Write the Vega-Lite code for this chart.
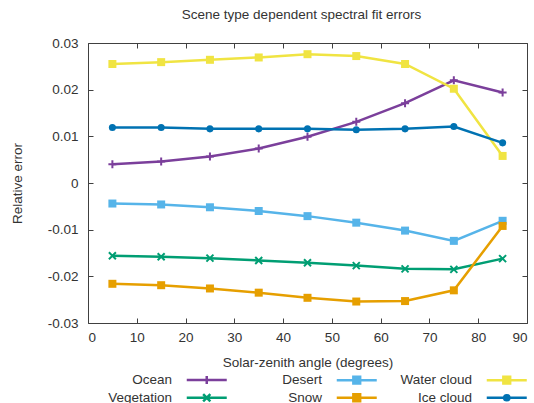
{
  "$schema": "https://vega.github.io/schema/vega-lite/v6.json",
  "width": 439,
  "height": 280,
  "autosize": {"type": "none"},
  "padding": {"left": 88, "top": 43, "right": 7, "bottom": 80},
  "background": "white",
  "title": {
    "text": "Scene type dependent spectral fit errors",
    "fontSize": 13.5,
    "fontWeight": "normal",
    "font": "Liberation Sans",
    "color": "#333333",
    "anchor": "middle",
    "offset": 15,
    "dx": -6
  },
  "data": {
    "values": [
      {"s": "Ocean", "x": 5, "y": 0.0040},
      {"s": "Ocean", "x": 15, "y": 0.0046},
      {"s": "Ocean", "x": 25, "y": 0.0057},
      {"s": "Ocean", "x": 35, "y": 0.0074},
      {"s": "Ocean", "x": 45, "y": 0.0099},
      {"s": "Ocean", "x": 55, "y": 0.0131},
      {"s": "Ocean", "x": 65, "y": 0.0171},
      {"s": "Ocean", "x": 75, "y": 0.0220},
      {"s": "Ocean", "x": 85, "y": 0.0194},
      {"s": "Vegetation", "x": 5, "y": -0.0156},
      {"s": "Vegetation", "x": 15, "y": -0.0158},
      {"s": "Vegetation", "x": 25, "y": -0.0161},
      {"s": "Vegetation", "x": 35, "y": -0.0166},
      {"s": "Vegetation", "x": 45, "y": -0.0171},
      {"s": "Vegetation", "x": 55, "y": -0.0177},
      {"s": "Vegetation", "x": 65, "y": -0.0184},
      {"s": "Vegetation", "x": 75, "y": -0.0185},
      {"s": "Vegetation", "x": 85, "y": -0.0162},
      {"s": "Desert", "x": 5, "y": -0.0044},
      {"s": "Desert", "x": 15, "y": -0.0046},
      {"s": "Desert", "x": 25, "y": -0.0052},
      {"s": "Desert", "x": 35, "y": -0.0060},
      {"s": "Desert", "x": 45, "y": -0.0071},
      {"s": "Desert", "x": 55, "y": -0.0085},
      {"s": "Desert", "x": 65, "y": -0.0102},
      {"s": "Desert", "x": 75, "y": -0.0124},
      {"s": "Desert", "x": 85, "y": -0.0081},
      {"s": "Snow", "x": 5, "y": -0.0216},
      {"s": "Snow", "x": 15, "y": -0.0219},
      {"s": "Snow", "x": 25, "y": -0.0226},
      {"s": "Snow", "x": 35, "y": -0.0235},
      {"s": "Snow", "x": 45, "y": -0.0246},
      {"s": "Snow", "x": 55, "y": -0.0254},
      {"s": "Snow", "x": 65, "y": -0.0253},
      {"s": "Snow", "x": 75, "y": -0.0230},
      {"s": "Snow", "x": 85, "y": -0.0092},
      {"s": "Water cloud", "x": 5, "y": 0.0255},
      {"s": "Water cloud", "x": 15, "y": 0.0259},
      {"s": "Water cloud", "x": 25, "y": 0.0264},
      {"s": "Water cloud", "x": 35, "y": 0.0269},
      {"s": "Water cloud", "x": 45, "y": 0.0276},
      {"s": "Water cloud", "x": 55, "y": 0.0272},
      {"s": "Water cloud", "x": 65, "y": 0.0255},
      {"s": "Water cloud", "x": 75, "y": 0.0202},
      {"s": "Water cloud", "x": 85, "y": 0.0058},
      {"s": "Ice cloud", "x": 5, "y": 0.0119},
      {"s": "Ice cloud", "x": 15, "y": 0.0119},
      {"s": "Ice cloud", "x": 25, "y": 0.0116},
      {"s": "Ice cloud", "x": 35, "y": 0.0116},
      {"s": "Ice cloud", "x": 45, "y": 0.0116},
      {"s": "Ice cloud", "x": 55, "y": 0.0114},
      {"s": "Ice cloud", "x": 65, "y": 0.0116},
      {"s": "Ice cloud", "x": 75, "y": 0.0121},
      {"s": "Ice cloud", "x": 85, "y": 0.0086}
    ]
  },
  "encoding": {
    "x": {"field": "x", "type": "quantitative", "scale": {"domain": [0, 90], "nice": false}},
    "y": {"field": "y", "type": "quantitative", "scale": {"domain": [-0.03, 0.03], "nice": false, "zero": false}},
    "color": {
      "field": "s", "type": "nominal",
      "scale": {
        "domain": ["Ocean", "Desert", "Water cloud", "Vegetation", "Snow", "Ice cloud"],
        "range": ["#7b3f9b", "#56b4e9", "#f0e442", "#009e73", "#e69f00", "#0072b2"]
      }
    }
  },
  "layer": [
    {
      "mark": {"type": "line", "strokeWidth": 2.5},
      "encoding": {
        "x": {
          "field": "x", "type": "quantitative",
          "axis": {
            "orient": "bottom",
            "values": [0, 10, 20, 30, 40, 50, 60, 70, 80, 90],
            "title": "Solar-zenith angle (degrees)",
            "titleX": 219.5, "titleY": 39, "titleBaseline": "middle",
            "labelPadding": 12
          }
        },
        "y": {
          "field": "y", "type": "quantitative",
          "axis": {
            "orient": "left",
            "values": [-0.03, -0.02, -0.01, 0, 0.01, 0.02, 0.03],
            "labelExpr": "datum.value == 0 ? '0' : (datum.value < 0 ? '-' : '') + format(abs(datum.value), '.2f')",
            "title": "Relative error",
            "titleX": -71, "titleY": 140, "titleAngle": -90, "titleAlign": "center", "titleBaseline": "middle",
            "labelPadding": 15
          }
        },
        "color": {
          "field": "s", "type": "nominal",
          "legend": {
            "orient": "none",
            "legendX": 14,
            "legendY": 330,
            "direction": "horizontal",
            "columns": 3,
            "title": null,
            "padding": 0,
            "symbolSize": 64,
            "symbolStrokeWidth": 2.5,
            "labelAlign": "right",
            "labelOffset": -41.5,
            "symbolOffset": 98,
            "columnPadding": 15,
            "rowPadding": 0,
            "labelFontSize": 13.5,
            "labelFont": "Liberation Sans",
            "labelColor": "#333333",
            "labelLimit": 200,
            "encode": {
              "symbols": {
                "update": {
                  "shape": {"signal": "datum.value==='Ocean'?'M-26,0M-5,0H5M0,-1V1':datum.value==='Vegetation'?'M-26,0M-5,0H5M-0.9,-0.9L0.9,0.9M-0.9,0.9L0.9,-0.9':datum.value==='Ice cloud'?'M-26,0M-5,0H5M-0.65,0A0.65,0.65 0 1,0 0.65,0A0.65,0.65 0 1,0 -0.65,0':'M-26,0M-5,0H5M-0.85,-0.85H0.85V0.85H-0.85Z'"},
                  "fill": {"scale": "color", "field": "value"},
                  "stroke": {"scale": "color", "field": "value"},
                  "strokeWidth": {"value": 2.5},
                  "opacity": {"value": 1}
                }
              }
            }
          }
        }
      }
    },
    {
      "transform": [{"filter": "datum.s === 'Ocean'"}],
      "mark": {"type": "point", "filled": false, "strokeWidth": 2, "opacity": 1, "size": 64, "shape": "M-1,0H1M0,-1V1"},
      "encoding": {
        "x": {
          "field": "x", "type": "quantitative",
          "axis": {"orient": "top", "values": [0, 10, 20, 30, 40, 50, 60, 70, 80, 90], "labels": false, "title": null}
        },
        "y": {
          "field": "y", "type": "quantitative",
          "axis": {"orient": "right", "values": [-0.03, -0.02, -0.01, 0, 0.01, 0.02, 0.03], "labels": false, "title": null}
        }
      }
    },
    {
      "transform": [{"filter": "datum.s === 'Vegetation'"}],
      "mark": {"type": "point", "filled": false, "strokeWidth": 2, "opacity": 1, "size": 49, "shape": "M-1,-1L1,1M-1,1L1,-1"},
      "encoding": {
        "x": {"field": "x", "type": "quantitative", "axis": null},
        "y": {"field": "y", "type": "quantitative", "axis": null}
      }
    },
    {
      "transform": [{"filter": "datum.s === 'Desert' || datum.s === 'Snow' || datum.s === 'Water cloud'"}],
      "mark": {"type": "point", "filled": true, "opacity": 1, "size": 64, "shape": "square"},
      "encoding": {
        "x": {"field": "x", "type": "quantitative", "axis": null},
        "y": {"field": "y", "type": "quantitative", "axis": null}
      }
    },
    {
      "transform": [{"filter": "datum.s === 'Ice cloud'"}],
      "mark": {"type": "point", "filled": true, "opacity": 1, "size": 50, "shape": "circle"},
      "encoding": {
        "x": {"field": "x", "type": "quantitative", "axis": null},
        "y": {"field": "y", "type": "quantitative", "axis": null}
      }
    }
  ],
  "resolve": {"axis": {"x": "independent", "y": "independent"}},
  "config": {
    "font": "Liberation Sans",
    "view": {"stroke": "#404040", "strokeWidth": 1},
    "axis": {
      "domain": false,
      "grid": false,
      "tickSize": -5,
      "tickColor": "#404040",
      "tickWidth": 1,
      "labelFont": "Liberation Sans",
      "labelFontSize": 13.5,
      "labelColor": "#333333",
      "titleFont": "Liberation Sans",
      "titleFontSize": 13.5,
      "titleFontWeight": "normal",
      "titleColor": "#333333"
    }
  }
}
